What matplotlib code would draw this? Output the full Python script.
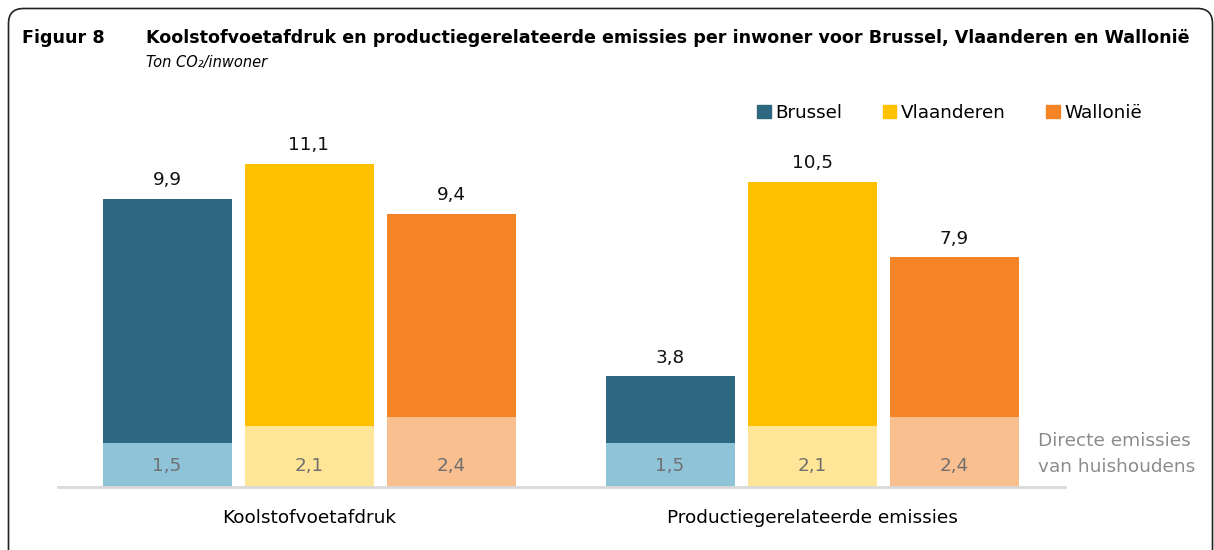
import matplotlib.pyplot as plt
from matplotlib.patches import FancyBboxPatch, Patch
import numpy as np

# data
groepen = ['Koolstofvoetafdruk', 'Productiegerelateerde emissies']
regios = ['Brussel', 'Vlaanderen', 'Wallonië']
totaal = {'Brussel': [9.9, 3.8], 'Vlaanderen': [11.1, 10.5], 'Wallonië': [9.4, 7.9]}
direct = {'Brussel': [1.5, 1.5], 'Vlaanderen': [2.1, 2.1], 'Wallonië': [2.4, 2.4]}

donker = {'Brussel': '#2E6880', 'Vlaanderen': '#FFC000', 'Wallonië': '#F58426'}
licht = {'Brussel': '#8EC3D8', 'Vlaanderen': '#FFE597', 'Wallonië': '#F9BF8F'}

def komma(v):
    return f'{v:.1f}'.replace('.', ',')

fig = plt.figure(figsize=(12.14, 5.5), dpi=100)
ax = fig.add_axes([58/1214, 63/550, (1065-58)/1214, 349/550])

x = np.arange(len(groepen))
stap = 142/503
breedte = 129/503

for i, r in enumerate(regios):
    pos = x + (i-1)*stap
    d = np.array(direct[r])
    t = np.array(totaal[r])
    ax.bar(pos, d, breedte, color=licht[r], zorder=2)
    ax.bar(pos, t-d, breedte, bottom=d, color=donker[r], label=r, zorder=2)
    for p, dv, tv in zip(pos, d, t):
        ax.annotate(komma(tv), (p, tv), xytext=(0, 7), textcoords='offset points',
                    ha='center', va='bottom', fontsize=13.2, color='#111111')
        # binnenlabels staan allemaal op dezelfde hoogte onderaan
        ax.text(p, 0.73, komma(dv), ha='center', va='center', fontsize=13.2, color='#707070')

ax.set_xlim((58-309)/503, (1065-309)/503)
ax.set_ylim(0, 12)
ax.set_yticks([])
ax.set_xticks(x)
ax.set_xticklabels(groepen, fontsize=13.3)
ax.tick_params(axis='x', length=0, pad=16)
for s in ['top', 'right', 'left']:
    ax.spines[s].set_visible(False)
ax.spines['bottom'].set_color('#D9D9D9')
ax.spines['bottom'].set_linewidth(2)
ax.spines['bottom'].set_zorder(3)

ax.text((1038-58)/(1065-58), (487-454)/349, 'Directe emissies\nvan huishoudens',
        transform=ax.transAxes, ha='left', va='center', fontsize=13.3, color='#8C8C8C',
        linespacing=1.5, clip_on=False)

handles = [Patch(color=donker[r]) for r in regios]
fig.legend(handles, regios, loc='center left', bbox_to_anchor=(757/1214, 1-113/550),
           ncol=3, frameon=False, fontsize=13.2, handlelength=0.75, handleheight=0.75,
           handletextpad=0.25, columnspacing=2.2, borderaxespad=0, borderpad=0)

fig.text(22/1214, 1-38/550, 'Figuur 8', fontsize=12.6, fontweight='bold', va='center')
fig.text(146/1214, 1-38/550,
         'Koolstofvoetafdruk en productiegerelateerde emissies per inwoner voor Brussel, Vlaanderen en Wallonië',
         fontsize=12.6, fontweight='bold', va='center')
fig.text(146/1214, 1-62/550, 'Ton CO₂/inwoner', fontsize=10.5, style='italic', va='center')

kader = FancyBboxPatch((0.085, -0.3), 12.04, 5.715, boxstyle='round,pad=0,rounding_size=0.15',
                       transform=fig.dpi_scale_trans, fill=False, edgecolor='#222222',
                       linewidth=1.2, clip_on=False)
fig.patches.append(kader)

plt.savefig('out.png', dpi=100)
